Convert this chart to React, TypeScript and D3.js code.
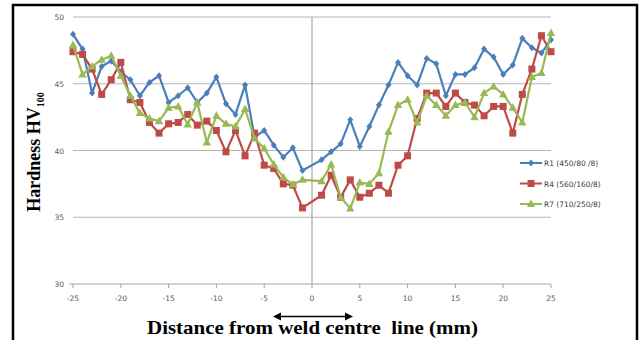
import React from "react";
import * as d3 from "d3";

// distance from weld centre line (mm); no reading at 0
const positions = [
  -25, -24, -23, -22, -21, -20, -19, -18, -17, -16, -15, -14, -13, -12, -11, -10, -9, -8, -7, -6, -5, -4, -3, -2, -1,
  1, 2, 3, 4, 5, 6, 7, 8, 9, 10, 11, 12, 13, 14, 15, 16, 17, 18, 19, 20, 21, 22, 23, 24, 25,
];

const r1 = [
  48.7, 47.6, 44.3, 46.3, 46.7, 45.9, 45.3, 44.1, 45.1, 45.6, 43.6, 44.1, 44.7, 43.6, 44.3, 45.5, 43.5, 42.7, 44.9, 41.0,
  41.5, 40.4, 39.5, 40.2, 38.5,
  39.3, 39.9, 40.5, 42.3, 40.3, 41.8, 43.4, 44.9, 46.6, 45.6, 44.9, 46.9, 46.5, 44.1, 45.7, 45.7, 46.2, 47.6, 47.0, 45.7,
  46.4, 48.4, 47.7, 47.3, 48.3,
];

const r4 = [
  47.4, 47.2, 46.1, 44.2, 45.3, 46.6, 43.8, 43.6, 42.1, 41.3, 42.0, 42.1, 42.7, 41.9, 42.2, 41.5, 39.9, 41.5, 39.6, 41.3,
  38.9, 38.65, 37.5, 37.4, 35.7,
  36.65, 38.15, 36.5, 37.8, 36.5, 36.8, 37.4, 36.8, 38.9, 39.6, 42.4, 44.3, 44.3, 43.3, 44.3, 43.6, 43.4, 42.6, 43.3, 43.3,
  41.3, 44.2, 46.1, 48.6, 47.4,
];

const r7 = [
  47.9, 45.7, 46.3, 46.8, 47.1, 45.6, 44.1, 42.8, 42.4, 42.2, 43.2, 43.3, 41.95, 43.6, 40.6, 42.6, 42.0, 41.8, 43.1, 40.9,
  40.15, 38.95, 38.0, 37.45, 37.8,
  37.7, 38.95, 36.5, 35.65, 37.6, 37.5, 38.3, 41.4, 43.4, 43.8, 42.1, 44.1, 43.4, 42.6, 43.4, 43.6, 42.5, 44.3, 44.8, 44.2,
  43.2, 42.1, 45.5, 45.8, 48.8,
];

const seriesNames = ["R1 (450/80 /8)", "R4 (560/160/8)", "R7 (710/250/8)"];
const seriesColors = ["#4a7ebb", "#be4b48", "#98b954"];
const seriesMarkers = ["diamond", "square", "triangle"];

const xTicks = [-25, -20, -15, -10, -5, 0, 5, 10, 15, 20, 25];
const yTicks = [30, 35, 40, 45, 50];

const W = 641;
const H = 340;

function Marker({ kind, x, y, color }: { kind: string; x: number; y: number; color: string }) {
  if (kind === "square") return <rect x={x - 3.5} y={y - 3.5} width={7} height={7} fill={color} />;
  if (kind === "triangle")
    return <path d={`M${x},${y - 4.5}L${x + 4.2},${y + 3}L${x - 4.2},${y + 3}Z`} fill={color} />;
  return <path d={`M${x},${y - 3.5}L${x + 3},${y}L${x},${y + 3.5}L${x - 3},${y}Z`} fill={color} />;
}

export default function App() {
  const x = d3.scaleLinear().domain([-25, 25]).range([73, 551]);
  const y = d3.scaleLinear().domain([30, 50]).range([284, 17]);

  const all = [r1, r4, r7];
  const line = d3
    .line<number>()
    .x((_, i) => x(positions[i]))
    .y((v) => y(v));

  const tickFont = "'DejaVu Sans', sans-serif";
  const serif = "'Liberation Serif', 'Times New Roman', serif";

  return (
    <svg
      width={W}
      height={H}
      style={{ position: "absolute", left: 0, top: 0, background: "#fff" }}
    >
      {/* frame */}
      <path d={`M13,${H}V5H637V${H}`} fill="none" stroke="#000" strokeWidth={2.5} />

      {/* gridlines */}
      {yTicks.slice(1).map((t) => (
        <line key={t} x1={x(-25)} x2={x(25)} y1={y(t)} y2={y(t)} stroke="#b4b4b4" strokeWidth={1} />
      ))}
      <line x1={x(0)} x2={x(0)} y1={y(50)} y2={y(30)} stroke="#a6a6a6" strokeWidth={1.2} />

      {/* x axis */}
      <line x1={x(-25)} x2={x(25)} y1={y(30)} y2={y(30)} stroke="#a6a6a6" strokeWidth={1} />
      {xTicks.map((t) => (
        <g key={t}>
          <line x1={x(t)} x2={x(t)} y1={y(30)} y2={y(30) + 4} stroke="#a6a6a6" />
          <text x={x(t)} y={y(30) + 17} fontSize={7.5} fill="#595959" fontFamily={tickFont} textAnchor="middle">
            {t}
          </text>
        </g>
      ))}
      <line x1={x(-25) - 4} x2={x(-25)} y1={y(30)} y2={y(30)} stroke="#a6a6a6" />

      {/* y labels */}
      {yTicks.map((t) => (
        <text key={t} x={64} y={y(t) + 3} fontSize={7.5} fill="#595959" fontFamily={tickFont} textAnchor="end">
          {t}
        </text>
      ))}

      {/* series */}
      {all.map((vals, s) => (
        <g key={s}>
          <path d={line(vals) || ""} fill="none" stroke={seriesColors[s]} strokeWidth={2.2} strokeLinejoin="round" />
          {vals.map((v, i) => (
            <Marker key={i} kind={seriesMarkers[s]} x={x(positions[i])} y={y(v)} color={seriesColors[s]} />
          ))}
        </g>
      ))}

      {/* legend */}
      {seriesNames.map((n, s) => {
        const ly = 163 + s * 20.5;
        return (
          <g key={n}>
            <line x1={520} x2={542} y1={ly} y2={ly} stroke={seriesColors[s]} strokeWidth={2} />
            <Marker kind={seriesMarkers[s]} x={531} y={ly} color={seriesColors[s]} />
            <text x={544} y={ly + 3} fontSize={7.5} fill="#404040" fontFamily={tickFont}>
              {n}
            </text>
          </g>
        );
      })}

      {/* axis titles */}
      <text
        transform="translate(40,152) rotate(-90)"
        textAnchor="middle"
        fontFamily={serif}
        fontWeight="bold"
        fontSize={18}
        fill="#000"
      >
        Hardness HV
        <tspan fontSize={10} dy={4}>
          100
        </tspan>
      </text>

      <text
        x={147}
        y={334}
        fontFamily={serif}
        fontWeight="bold"
        fontSize={19}
        fill="#000"
        textLength={331}
        lengthAdjust="spacingAndGlyphs"
        style={{ whiteSpace: "pre" }}
      >
        {"Distance from weld centre  line (mm)"}
      </text>

      {/* arrow */}
      <line x1={279} x2={347} y1={316.5} y2={316.5} stroke="#000" strokeWidth={1.5} />
      <path d="M273,316.5L281,312.5L281,320.5Z" fill="#000" />
      <path d="M353,316.5L345,312.5L345,320.5Z" fill="#000" />
    </svg>
  );
}
